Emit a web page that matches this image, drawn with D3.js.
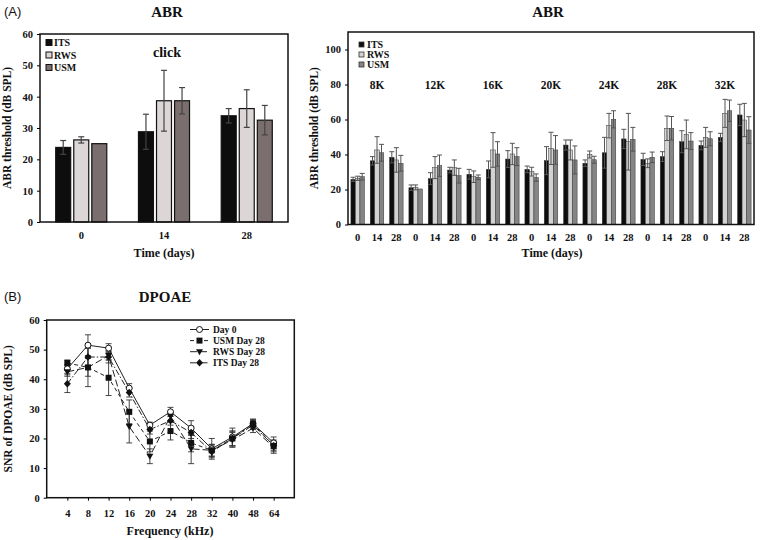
<!DOCTYPE html>
<html><head><meta charset="utf-8">
<script src="https://cdn.jsdelivr.net/npm/d3@7"></script>
<style>
body{margin:0;background:#fff;}
svg text{font-family:"Liberation Serif","Times New Roman",serif;font-weight:bold;fill:#111;}
</style></head>
<body><svg id="c" width="760" height="540"></svg>
<script>
// ---------- Data ----------
const groups = ["ITS","RWS","USM"];
const clickDays = ["0","14","28"];
const clickMean = {ITS:[23.8,28.8,33.9], RWS:[26.2,38.7,36.2], USM:[25,38.7,32.5]};
const clickErr  = {ITS:[2.2,5.6,2.3], RWS:[1.0,9.7,6.0], USM:[0,4.2,4.7]};

const freqLabels = ["8K","12K","16K","20K","24K","28K","32K"];
const dayLabels = ["0","14","28"];
// per frequency x day (21 entries)
const toneITS = [25.8,36.4,38.4, 21.0,26.2,31.1, 28.7,31.5,37.4, 31.5,36.5,45.4, 35.0,41.0,48.9, 37.2,38.8,47.3, 45.2,49.8,62.6];
const toneRWS = [26.4,42.6,36.9, 21.2,32.5,32.5, 27.3,42.6,40.3, 30.2,43.5,42.6, 40.0,56.5,47.3, 35.0,55.0,51.5, 49.8,63.5,59.7];
const toneUSM = [27.3,41.0,35.0, 20.3,33.6,27.9, 27.0,40.3,38.8, 26.8,42.6,36.9, 37.0,60.1,48.7, 38.4,55.0,47.7, 49.0,65.0,54.0];
const toneITSerr = [1.2,2.4,3.2, 1.6,3.4,1.6, 2.8,4.8,4.8, 1.9,8.0,2.9, 1.9,8.8,5.5, 3.5,2.8,6.3, 2.5,2.3,6.1];
const toneRWSerr = [1.2,7.6,7.0, 1.4,6.3,4.4, 3.3,9.9,6.1, 2.5,9.2,5.7, 2.0,7.0,16.2, 2.5,7.0,8.2, 5.7,8.0,9.5];
const toneUSMerr = [1.9,4.8,4.5, 0,6.1,4.2, 1.3,7.0,5.1, 2.1,8.2,8.0, 2.0,4.9,6.8, 3.0,6.7,4.8, 4.0,6.1,7.6];

const dpFreq = ["4","8","12","16","20","24","28","32","40","48","64"];
const dpSeries = ["Day 0","USM Day 28","RWS Day 28","ITS Day 28"];
const dpDay0 = [43.5,51.5,50.5,37.0,24.5,29.0,23.5,16.5,20.5,25.0,18.5];
const dpUSM  = [45.5,44.0,40.5,29.0,19.0,22.5,18.5,16.0,20.0,25.0,17.5];
const dpRWS  = [42.5,44.0,48.0,24.0,14.0,27.5,16.5,16.0,19.5,23.5,17.0];
const dpITS  = [38.5,47.5,47.5,35.5,23.0,26.0,22.0,15.5,20.0,24.5,17.5];
const dpDay0err = [1.5,3.5,1.5,1.5,1.0,1.5,2.5,3.5,3.0,1.5,2.0];
const dpUSMerr  = [1.0,6.5,6.0,4.0,3.5,3.0,3.0,2.0,2.5,1.5,1.5];
const dpRWSerr  = [1.5,3.0,1.5,5.5,2.5,1.5,5.0,2.0,2.5,1.5,2.0];
const dpITSerr  = [3.0,3.0,2.0,1.5,1.5,1.5,2.0,2.0,2.5,1.5,2.0];

const barColor = {ITS:"#0d0d0d", RWS:"#ddd6d6", USM:"#7a6e6e"};
const toneColor = {ITS:"#0d0d0d", RWS:"#d2d2d2", USM:"#858585"};

const svg = d3.select("#c");

function sans(t,x,y){svg.append("text").attr("x",x).attr("y",y).text(t)
  .style("font-family","'Liberation Sans',Arial,sans-serif").style("font-weight","normal").style("font-size","13px");}
function title(t,x,y,size){svg.append("text").attr("x",x).attr("y",y).attr("text-anchor","middle").style("font-size",size+"px").text(t);}
function ylabel(t,x,y){svg.append("text").attr("transform",`translate(${x},${y}) rotate(-90)`).attr("text-anchor","middle").style("font-size","11.5px").text(t);}

sans("(A)",4,16);
sans("(B)",4,301);

// ---------- Panel A left: click ----------
{
  const L=40,R=288,T=34,B=222;
  const y=d3.scaleLinear().domain([0,60]).range([B,T]);
  const x=d3.scaleBand().domain(clickDays).range([L,R]).paddingInner(0.383).paddingOuter(0.19);
  const xs=d3.scaleBand().domain(groups).range([0,x.bandwidth()]).paddingInner(0.17);
  const g=svg.append("g");
  groups.forEach(s=>{
    clickDays.forEach((d,i)=>{
      const v=clickMean[s][i], e=clickErr[s][i];
      const bx=x(d)+xs(s), w=xs.bandwidth();
      g.append("rect").attr("x",bx).attr("y",y(v)).attr("width",w).attr("height",y(0)-y(v))
        .attr("fill",barColor[s]).attr("stroke","#111").attr("stroke-width",1.2);
      if(e>0){
        const cx=bx+w/2;
        g.append("line").attr("x1",cx).attr("x2",cx).attr("y1",y(v+e)).attr("y2",y(v-e)).attr("stroke","#444").attr("stroke-width",1.2);
        [v+e,v-e].forEach(k=>g.append("line").attr("x1",cx-3).attr("x2",cx+3).attr("y1",y(k)).attr("y2",y(k)).attr("stroke","#444").attr("stroke-width",1.2));
      }
    });
  });
  g.append("rect").attr("x",L).attr("y",T).attr("width",R-L).attr("height",B-T).attr("fill","none").attr("stroke","#111").attr("stroke-width",1.5);
  const ya=svg.append("g").attr("transform",`translate(${L},0)`).call(d3.axisLeft(y).tickValues([0,10,20,30,40,50,60]).tickSize(3).tickPadding(4));
  ya.select(".domain").remove();
  ya.selectAll("text").style("font-size","10.5px").style("font-family","'Liberation Serif',serif");
  clickDays.forEach(d=>svg.append("text").attr("x",x(d)+x.bandwidth()/2).attr("y",239).attr("text-anchor","middle").style("font-size","10.5px").text(d));
  title("Time (days)",(L+R)/2,257,12);
  ylabel("ABR threshold (dB SPL)",11,(T+B)/2);
  title("ABR",167,17,15);
  title("click",167,57,14);
  groups.forEach((s,i)=>{
    const yy=43+i*12.5;
    svg.append("rect").attr("x",46).attr("y",yy-3.5).attr("width",6).attr("height",6).attr("fill",barColor[s]).attr("stroke","#111").attr("stroke-width",1);
    svg.append("text").attr("x",54).attr("y",yy+3).style("font-size","10px").text(s);
  });
}

// ---------- Panel A right: tones ----------
{
  const L=348,R=754,T=32,B=224.5;
  const y=d3.scaleLinear().domain([0,110]).range([B,T]);
  const keys=d3.range(21);
  const x=d3.scaleBand().domain(keys).range([L,754]).paddingInner(0.3).paddingOuter(0.15);
  const xs=d3.scaleBand().domain(groups).range([0,x.bandwidth()]).paddingInner(0);
  const vals={ITS:toneITS,RWS:toneRWS,USM:toneUSM}, errs={ITS:toneITSerr,RWS:toneRWSerr,USM:toneUSMerr};
  const g=svg.append("g");
  groups.forEach(s=>{
    keys.forEach(i=>{
      const v=vals[s][i], e=errs[s][i];
      const bx=x(i)+xs(s), w=xs.bandwidth();
      g.append("rect").attr("x",bx).attr("y",y(v)).attr("width",w).attr("height",y(0)-y(v))
        .attr("fill",toneColor[s]).attr("stroke","#333").attr("stroke-width",0.5);
      if(e>0){
        const cx=bx+w/2;
        g.append("line").attr("x1",cx).attr("x2",cx).attr("y1",y(v+e)).attr("y2",y(v-e)).attr("stroke","#555").attr("stroke-width",1);
        [v+e,v-e].forEach(k=>g.append("line").attr("x1",cx-2.5).attr("x2",cx+2.5).attr("y1",y(k)).attr("y2",y(k)).attr("stroke","#555").attr("stroke-width",1));
      }
    });
  });
  g.append("rect").attr("x",L).attr("y",T).attr("width",R-L).attr("height",B-T).attr("fill","none").attr("stroke","#111").attr("stroke-width",1.5);
  const ya=svg.append("g").attr("transform",`translate(${L},0)`).call(d3.axisLeft(y).tickValues([0,20,40,60,80,100]).tickSize(3).tickPadding(4));
  ya.select(".domain").remove();
  ya.selectAll("text").style("font-size","10.5px").style("font-family","'Liberation Serif',serif");
  keys.forEach(i=>svg.append("text").attr("x",x(i)+x.bandwidth()/2).attr("y",241).attr("text-anchor","middle").style("font-size","10.5px").text(dayLabels[i%3]));
  freqLabels.forEach((f,j)=>title(f,x(j*3+1)+x.bandwidth()/2,89,11.5));
  title("Time (days)",552,257,12);
  ylabel("ABR threshold (dB SPL)",318,(T+B)/2);
  title("ABR",548,17,15);
  groups.forEach((s,i)=>{
    const yy=45+i*10;
    svg.append("rect").attr("x",359).attr("y",yy-3).attr("width",5).attr("height",5).attr("fill",toneColor[s]).attr("stroke","#333").attr("stroke-width",0.8);
    svg.append("text").attr("x",367).attr("y",yy+2.5).style("font-size","10px").text(s);
  });
}

// ---------- Panel B: DPOAE ----------
{
  const L=46.7,R=294.3,T=320,B=497.7;
  const y=d3.scaleLinear().domain([0,60]).range([B,T]);
  const x=d3.scalePoint().domain(dpFreq).range([L,R]).padding(1);
  const series=[
    {name:"Day 0",v:dpDay0,e:dpDay0err,dash:null,marker:"circle"},
    {name:"USM Day 28",v:dpUSM,e:dpUSMerr,dash:"4,3",marker:"square"},
    {name:"RWS Day 28",v:dpRWS,e:dpRWSerr,dash:"7,3",marker:"tri"},
    {name:"ITS Day 28",v:dpITS,e:dpITSerr,dash:"6,2,1.5,2",marker:"diamond"}
  ];
  const g=svg.append("g");
  const line=d3.line().x((d,i)=>x(dpFreq[i])).y(d=>y(d));
  function marker(sel,type,cx,cy){
    if(type==="circle") sel.append("circle").attr("cx",cx).attr("cy",cy).attr("r",3).attr("fill","#fff").attr("stroke","#111").attr("stroke-width",1);
    else if(type==="square") sel.append("rect").attr("x",cx-3).attr("y",cy-3).attr("width",6).attr("height",6).attr("fill","#111");
    else if(type==="tri") sel.append("path").attr("d",`M${cx-3.5},${cy-2.5}L${cx+3.5},${cy-2.5}L${cx},${cy+3.5}Z`).attr("fill","#111");
    else sel.append("path").attr("d",`M${cx},${cy-3.8}L${cx+3.5},${cy}L${cx},${cy+3.8}L${cx-3.5},${cy}Z`).attr("fill","#111");
  }
  series.forEach(s=>{
    s.v.forEach((v,i)=>{
      const cx=x(dpFreq[i]), e=s.e[i];
      g.append("line").attr("x1",cx).attr("x2",cx).attr("y1",y(v+e)).attr("y2",y(v-e)).attr("stroke","#333").attr("stroke-width",0.9);
      [v+e,v-e].forEach(k=>g.append("line").attr("x1",cx-3).attr("x2",cx+3).attr("y1",y(k)).attr("y2",y(k)).attr("stroke","#333").attr("stroke-width",0.9));
    });
  });
  series.forEach(s=>{
    g.append("path").attr("d",line(s.v)).attr("fill","none").attr("stroke","#222").attr("stroke-width",1).attr("stroke-dasharray",s.dash);
  });
  series.forEach(s=>{ s.v.forEach((v,i)=>marker(g,s.marker,x(dpFreq[i]),y(v))); });
  g.append("rect").attr("x",L).attr("y",T).attr("width",R-L).attr("height",B-T).attr("fill","none").attr("stroke","#111").attr("stroke-width",1.5);
  const ya=svg.append("g").attr("transform",`translate(${L},0)`).call(d3.axisLeft(y).tickValues([0,10,20,30,40,50,60]).tickSize(3).tickPadding(4));
  ya.select(".domain").remove();
  ya.selectAll("text").style("font-size","10.5px").style("font-family","'Liberation Serif',serif");
  const xa=svg.append("g").attr("transform",`translate(0,${B})`).call(d3.axisBottom(x).tickSize(3).tickPadding(9));
  xa.select(".domain").remove();
  xa.selectAll("text").style("font-size","10.5px").style("font-family","'Liberation Serif',serif");
  title("Frequency (kHz)",170,535,12);
  ylabel("SNR of DPOAE (dB SPL)",12,(T+B)/2);
  title("DPOAE",165,302,15);
  series.forEach((s,i)=>{
    const yy=329.5+i*11.1;
    svg.append("line").attr("x1",190).attr("x2",209).attr("y1",yy).attr("y2",yy).attr("stroke","#222").attr("stroke-width",1).attr("stroke-dasharray",s.dash);
    marker(svg,s.marker,199.5,yy);
    svg.append("text").attr("x",213).attr("y",yy+3).style("font-size","9.5px").text(s.name);
  });
}
</script></body></html>
